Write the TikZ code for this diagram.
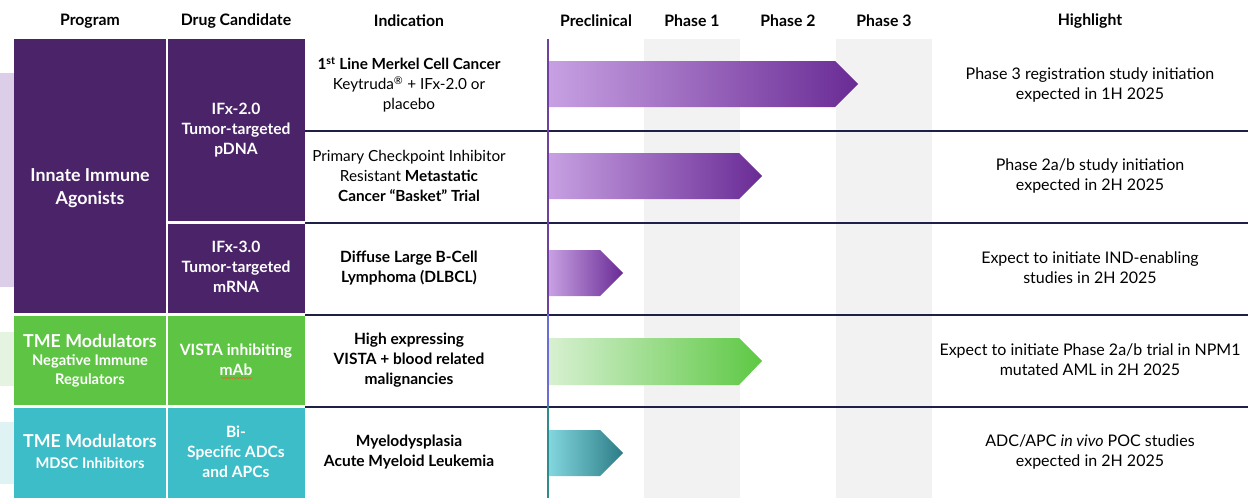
\documentclass[tikz,border=0pt]{standalone}
\usepackage{fontspec}
\setmainfont{Lato}
\usetikzlibrary{decorations.pathmorphing}
\definecolor{purp}{HTML}{4A2368}
\definecolor{grn}{HTML}{5EC443}
\definecolor{cyn}{HTML}{3CBDC7}
\definecolor{navy}{HTML}{1E2048}
\definecolor{band}{HTML}{F2F2F2}
\definecolor{lav}{HTML}{DCCDE8}
\definecolor{lgrn}{HTML}{E5F3E1}
\definecolor{lcyn}{HTML}{DFF2F4}
\definecolor{pA}{HTML}{C7A0E2}
\definecolor{pB}{HTML}{692B95}
\definecolor{gA}{HTML}{D7F0D1}
\definecolor{gB}{HTML}{5DC843}
\definecolor{cA}{HTML}{82D6DE}
\definecolor{cB}{HTML}{2C7C86}
\definecolor{vlP}{HTML}{7040A0}
\definecolor{vlG}{HTML}{6C6CD9}
\definecolor{vlC}{HTML}{2F8C8C}
\definecolor{spell}{HTML}{E0682A}
\begin{document}
\begin{tikzpicture}[x=1pt,y=-1pt,
  every node/.style={inner sep=0pt, align=center},
  hdr/.style={font=\fontsize{15.8}{18}\selectfont\bfseries},
  body/.style={font=\fontsize{15.3}{20}\selectfont},
  bodyb/.style={font=\fontsize{15.5}{20}\selectfont\bfseries},
  hl/.style={font=\fontsize{16}{20}\selectfont},
  prog/.style={font=\fontsize{17.8}{23}\selectfont\bfseries, text=white},
  progsub/.style={font=\fontsize{14.7}{19.5}\selectfont\bfseries, text=white},
  drug/.style={font=\fontsize{15.6}{20}\selectfont\bfseries, text=white},
  rowline/.style={draw=navy, line width=2pt},
]
\useasboundingbox (0,0) rectangle (1258,498);
% left light strips
\fill[lav] (0,73) rectangle (14,287);
\fill[lgrn] (0,332) rectangle (14,386);
\fill[lcyn] (0,422) rectangle (14,484);
% phase bands
\fill[band] (644,39) rectangle (740,498);
\fill[band] (836,39) rectangle (932,498);
% program cells
\fill[purp] (14,39) rectangle (166,313);
\fill[grn] (14,316) rectangle (166,405);
\fill[cyn] (14,408) rectangle (166,498);
% drug cells
\fill[purp] (168,39) rectangle (305,221);
\fill[purp] (168,224) rectangle (305,313);
\fill[grn] (168,316) rectangle (305,405);
\fill[cyn] (168,408) rectangle (305,498);
% row lines
\draw[rowline] (305,130.5) -- (1248,130.5);
\draw[rowline] (305,222.5) -- (1248,222.5);
\draw[rowline] (305,314.5) -- (1248,314.5);
\draw[rowline] (305,406.5) -- (1248,406.5);
% vertical line
\draw[vlP, line width=1.5pt] (548,39) -- (548,314);
\draw[vlG, line width=1.5pt] (548,314) -- (548,406);
\draw[vlC, line width=1.5pt] (548,406) -- (548,498);
% arrows
\shade[left color=pA, right color=pB] (549,61) -- (835,61) -- (858,84) -- (835,107) -- (549,107) -- cycle;
\shade[left color=pA, right color=pB] (549,153) -- (739,153) -- (762,176) -- (739,199) -- (549,199) -- cycle;
\shade[left color=pA, right color=pB] (549,250) -- (600,250) -- (623,273) -- (600,296) -- (549,296) -- cycle;
\shade[left color=gA, right color=gB] (549,338) -- (739,338) -- (762,361) -- (739,385) -- (549,385) -- cycle;
\shade[left color=cA, right color=cB] (549,430) -- (600,430) -- (623,453) -- (600,476) -- (549,476) -- cycle;
% headers
\node[hdr] (hProg) at (90,21) {Program};
\node[hdr] (hDrug) at (236,21) {Drug Candidate};
\node[hdr] (hInd) at (409,21) {Indication};
\node[hdr] (hPre) at (596,21) {Preclinical};
\node[hdr] (hP1) at (692,21) {Phase 1};
\node[hdr] (hP2) at (788,21) {Phase 2};
\node[hdr] (hP3) at (884,21) {Phase 3};
\node[hdr] (hHi) at (1090,21) {Highlight};
% program texts
\node[prog] (prog1) at (90,188) {Innate Immune\\Agonists};
\node[prog] (prog2) at (90,341) {TME Modulators};
\node[progsub] (prog2s) at (90,371) {Negative Immune\\Regulators};
\node[prog] (prog3) at (90,441) {TME Modulators};
\node[progsub] (prog3s) at (90,463) {MDSC Inhibitors};
% drug texts
\node[drug] (drug1) at (236,130) {IFx-2.0\\Tumor-targeted\\pDNA};
\node[drug] (drug2) at (236,267) {IFx-3.0\\Tumor-targeted\\mRNA};
\node[drug] (drug3) at (236,360) {VISTA inhibiting\\mAb};
\node[drug] (drug4) at (236,452) {Bi-\\Specific ADCs\\and APCs};
\draw[spell, line width=0.6pt, decorate, decoration={snake, amplitude=0.8pt, segment length=3pt}] (221,378) -- (252,378);
% indications
\node[body] (ind1) at (409,85) {\textbf{1\textsuperscript{st} Line Merkel Cell Cancer}\\Keytruda\textsuperscript{®} + IFx-2.0 or\\placebo};
\node[body] (ind2) at (409,176) {Primary Checkpoint Inhibitor\\Resistant \textbf{Metastatic}\\\textbf{Cancer “Basket” Trial}};
\node[bodyb] (ind3) at (409,268) {Diffuse Large B-Cell\\Lymphoma (DLBCL)};
\node[bodyb] (ind4) at (409,360) {High expressing\\VISTA + blood related\\malignancies};
\node[bodyb] (ind5) at (409,452) {Myelodysplasia\\Acute Myeloid Leukemia};
% highlights
\node[hl] (hl1) at (1090,85) {Phase 3 registration study initiation\\expected in 1H 2025};
\node[hl] (hl2) at (1090,176) {Phase 2a/b study initiation\\expected in 2H 2025};
\node[hl] (hl3) at (1090,268) {Expect to initiate IND-enabling\\studies in 2H 2025};
\node[hl] (hl4) at (1090,360) {Expect to initiate Phase 2a/b trial in NPM1\\mutated AML in 2H 2025};
\node[hl] (hl5) at (1090,452) {ADC/APC \textit{in vivo} POC studies\\expected in 2H 2025};
\end{tikzpicture}
\end{document}
